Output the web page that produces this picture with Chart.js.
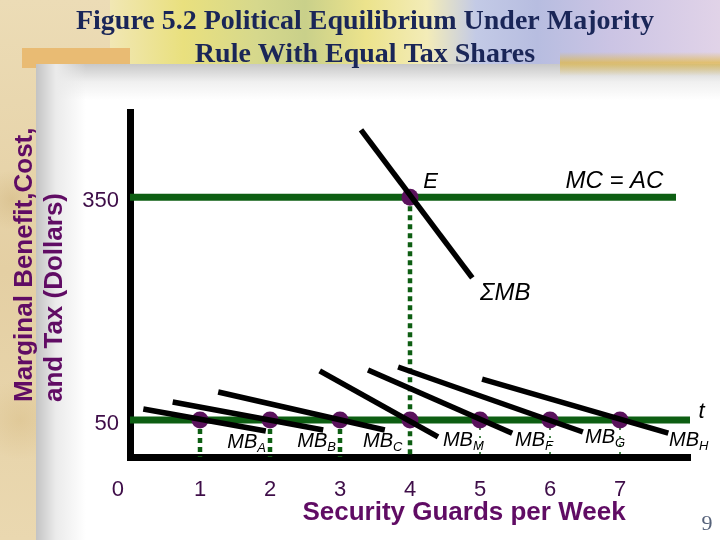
<!DOCTYPE html>
<html>
<head>
<meta charset="utf-8">
<script src="https://cdn.jsdelivr.net/npm/chart.js@4.4.1/dist/chart.umd.min.js"></script>
<style>
html,body{margin:0;padding:0;background:#fff;}
#slide{position:relative;width:720px;height:540px;overflow:hidden;
  background:
    radial-gradient(circle at 12px 200px, rgba(200,170,110,0.35) 0, rgba(200,170,110,0) 30px),
    radial-gradient(circle at 20px 420px, rgba(210,180,120,0.35) 0, rgba(210,180,120,0) 40px),
    linear-gradient(180deg,#ecdcb6 0%,#e4cfa3 50%,#ead8b0 100%);}
.top{position:absolute;left:110px;top:0;width:610px;height:66px;
  background:linear-gradient(90deg,#f1e7b4 0%,#e9e07e 12%,#d6d88c 24%,#c9d08a 32%,#ece38c 42%,#f3ecb8 52%,#c3cae6 60%,#b7bde0 70%,#cbc4e4 82%,#e1d3e8 100%);}
.band{position:absolute;left:22px;top:48px;width:108px;height:20px;background:#e9bb73;}
.wheat{position:absolute;left:560px;top:52px;width:160px;height:24px;
  background:linear-gradient(180deg,rgba(230,190,80,0) 0%,rgba(225,185,70,0.75) 45%,rgba(230,190,80,0) 100%);}
.panel{position:absolute;left:36px;top:64px;right:0;bottom:0;
  background:
    linear-gradient(90deg,rgba(195,195,195,1) 0px,rgba(235,235,235,1) 20px,rgba(255,255,255,0) 50px),
    linear-gradient(180deg,rgba(200,200,200,1) 0px,rgba(240,240,240,1) 18px,rgba(255,255,255,0) 36px),
    #ffffff;}
canvas{position:absolute;left:0;top:0;}
</style>
</head>
<body>
<div id="slide">
  <div class="top"></div>
  <div class="band"></div>
  <div class="panel"></div>
  <div class="wheat"></div>
  <canvas id="c" width="720" height="540"></canvas>
</div>
<script>
// ---------- data ----------
const xTickValues = [0, 1, 2, 3, 4, 5, 6, 7];
const xTickLabels = ['0', '1', '2', '3', '4', '5', '6', '7'];
const yTickValues = [50, 350];
const guards = [1, 2, 3, 4, 5, 6, 7];   // quantities where each voter's MB equals the tax share
const taxShare = 50;                     // equal tax share t ($)
const marginalCost = 350;                // MC = AC ($)
const eqQuantity = 4;                    // political equilibrium E
const mcExtent = [0, 7.8];
const taxExtent = [0, 8];
const mbA = [[0.19, 64.7], [1.94, 35.0]];
const mbB = [[0.61, 74.1], [2.76, 36.4]];
const mbC = [[1.26, 87.6], [3.64, 36.4]];
const mbM = [[2.71, 116.0], [4.40, 27.0]];
const mbF = [[3.40, 117.3], [5.46, 32.0]];
const mbG = [[3.83, 121.3], [6.47, 33.7]];
const mbH = [[5.03, 105.1], [7.69, 32.3]];
const sumMB = [[3.30, 440.8], [4.89, 241.3]];

const labelsText = [
  {text: 'E', x: 4.19, y: 371, size: 22},
  {text: 'MC = AC', x: 6.22, y: 372, size: 24},
  {text: '\u03A3MB', x: 5.0, y: 220, size: 24},
  {text: 'MB', sub: 'A', x: 1.39, y: 20.2},
  {text: 'MB', sub: 'B', x: 2.39, y: 20.9},
  {text: 'MB', sub: 'C', x: 3.33, y: 20.9},
  {text: 'MB', sub: 'M', x: 4.47, y: 22.9},
  {text: 'MB', sub: 'F', x: 5.50, y: 22.9},
  {text: 'MB', sub: 'G', x: 6.50, y: 27.0},
  {text: 'MB', sub: 'H', x: 7.70, y: 22.9},
  {text: 't', x: 8.12, y: 60.7, size: 22}
];

// ---------- styles ----------
const GREEN = '#0d5e12';
const PURPLE = '#5a125c';
const TICK = '#3e0d48';
const TITLE_PURPLE = '#600c64';

const toPts = seg => seg.map(p => ({x: p[0], y: p[1]}));
const blackSeg = seg => ({data: toPts(seg), showLine: true, borderColor: '#000', borderWidth: 5.5,
  pointRadius: 0, borderCapStyle: 'butt', clip: false});

const datasets = [];
// black MB lines (top)
[mbA, mbB, mbC, mbM, mbF, mbG, mbH, sumMB].forEach(s => datasets.push(blackSeg(s)));
// points
datasets.push({data: guards.map(g => ({x: g, y: taxShare})).concat([{x: eqQuantity, y: marginalCost}]),
  showLine: false, pointRadius: 8.5, pointBackgroundColor: PURPLE, pointBorderWidth: 0, clip: false});
// dotted verticals
guards.forEach(g => {
  const thick = g <= 4;
  const top = g === eqQuantity ? marginalCost : taxShare;
  datasets.push({data: [{x: g, y: top}, {x: g, y: 0}], showLine: true, borderColor: GREEN,
    borderWidth: thick ? 4.5 : 1.5, borderDash: thick ? [5, 4] : [2, 6], pointRadius: 0, clip: false});
});
// green horizontal lines
datasets.push({data: mcExtent.map(x => ({x, y: marginalCost})), showLine: true, borderColor: GREEN,
  borderWidth: 7, pointRadius: 0, borderCapStyle: 'butt', clip: false});
datasets.push({data: taxExtent.map(x => ({x, y: taxShare})), showLine: true, borderColor: GREEN,
  borderWidth: 7, pointRadius: 0, borderCapStyle: 'butt', clip: false});

const textPlugin = {
  id: 'texts',
  afterDatasetsDraw(chart) {
    const ctx = chart.ctx, xs = chart.scales.x, ys = chart.scales.y;
    ctx.save();
    ctx.fillStyle = '#000';
    ctx.textBaseline = 'middle';
    ctx.textAlign = 'left';
    labelsText.forEach(l => {
      const px = xs.getPixelForValue(l.x), py = ys.getPixelForValue(l.y);
      const size = l.size || 20;
      ctx.font = 'italic ' + size + 'px "Liberation Sans", Arial, sans-serif';
      ctx.fillText(l.text, px, py);
      if (l.sub) {
        const w = ctx.measureText(l.text).width;
        ctx.font = 'italic 13px "Liberation Sans", Arial, sans-serif';
        ctx.fillText(l.sub, px + w, py + 6);
      }
    });
    ctx.restore();
  },
  afterDraw(chart) {
    const ctx = chart.ctx;
    ctx.save();
    // slide title
    ctx.fillStyle = '#1a2658';
    ctx.textAlign = 'center';
    ctx.textBaseline = 'alphabetic';
    ctx.font = 'bold 28px "Liberation Serif", "Times New Roman", serif';
    ctx.fillText('Figure 5.2 Political Equilibrium Under Majority', 365, 29);
    ctx.fillText('Rule With Equal Tax Shares', 365, 62);
    // x axis title
    ctx.fillStyle = TITLE_PURPLE;
    ctx.font = 'bold 26px "Liberation Sans", Arial, sans-serif';
    ctx.textBaseline = 'middle';
    ctx.fillText('Security Guards per Week', 464, 513);
    // y axis title
    ctx.save();
    ctx.translate(0, 402);
    ctx.rotate(-Math.PI / 2);
    ctx.textAlign = 'left';
    ctx.fillText('Marginal Benefit,Cost,', 0, 25);
    ctx.fillText('and Tax (Dollars)', 0, 55);
    ctx.restore();
    // page number
    ctx.fillStyle = '#56627a';
    ctx.font = '22px "Liberation Serif", "Times New Roman", serif';
    ctx.textAlign = 'center';
    ctx.fillText('9', 707, 524);
    ctx.restore();
  }
};

new Chart(document.getElementById('c'), {
  type: 'scatter',
  data: {datasets},
  options: {
    responsive: false,
    devicePixelRatio: 1,
    animation: false,
    events: [],
    layout: {padding: {top: 112, right: 30, left: 0, bottom: 0}},
    plugins: {legend: {display: false}, tooltip: {enabled: false}, title: {display: false}},
    scales: {
      x: {
        type: 'linear', position: 'bottom', min: 0, max: 8,
        grid: {display: false, drawTicks: false},
        border: {display: true, color: '#000', width: 7},
        afterBuildTicks: s => { s.ticks = xTickValues.map(v => ({value: v})); },
        afterFit: s => { s.height = 83; },
        ticks: {
          autoSkip: false, maxRotation: 0, minRotation: 0, padding: 20, color: TICK,
          font: {family: '"Liberation Sans", Arial, sans-serif', size: 22},
          callback: (v, i) => i === 0 ? xTickLabels[i] + '    ' : xTickLabels[i]
        }
      },
      y: {
        type: 'linear', position: 'left', min: 0, max: 465,
        grid: {display: false, drawTicks: false},
        border: {display: true, color: '#000', width: 7},
        afterBuildTicks: s => { s.ticks = yTickValues.map(v => ({value: v})); },
        afterFit: s => { s.width = 130; },
        ticks: {
          padding: 11, color: TICK, labelOffset: 4,
          font: {family: '"Liberation Sans", Arial, sans-serif', size: 22},
          callback: v => String(v)
        }
      }
    }
  },
  plugins: [textPlugin]
});
</script>
</body>
</html>
